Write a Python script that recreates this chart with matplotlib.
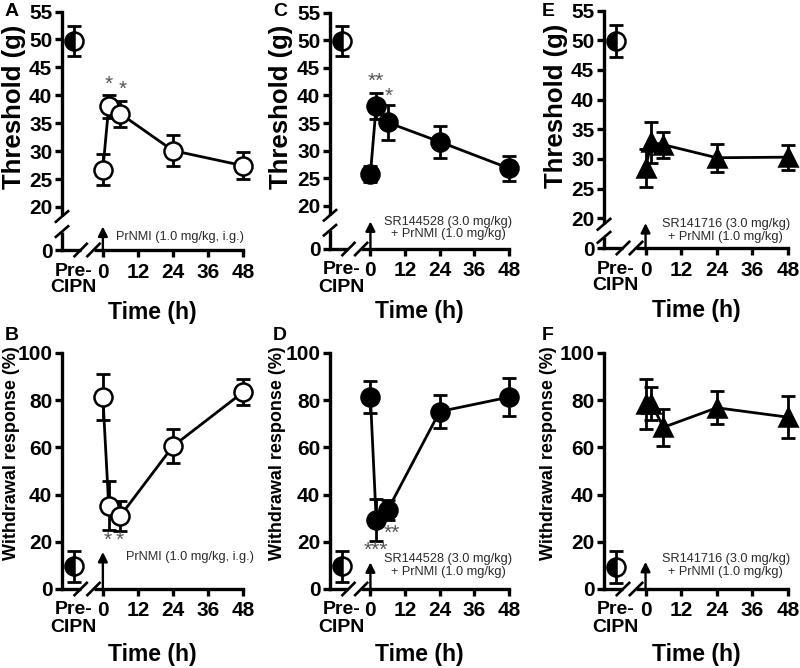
import matplotlib
matplotlib.use("Agg")
import matplotlib.pyplot as plt

plt.rcParams["font.family"] = ["Liberation Sans", "DejaVu Sans"]

# ──────────────────────────────────────────────────────────────
# Data
# ──────────────────────────────────────────────────────────────
PRE_X = -10                      # where the Pre-CIPN point sits on the x axis
times = [0, 2, 6, 24, 48]

# Threshold (g) — top row
pre_thr = [49.7, 49.8, 49.8]
pre_thr_err = [2.7, 2.7, 2.7]
thr_a = [26.7, 38.0, 36.7, 30.1, 27.4]
thr_a_err = [2.8, 2.0, 2.3, 2.7, 2.4]
thr_c = [25.8, 38.1, 35.1, 31.6, 26.8]
thr_c_err = [1.4, 2.4, 3.1, 2.9, 2.3]
thr_e = [28.5, 32.8, 32.4, 30.2, 30.3]
thr_e_err = [3.2, 3.5, 2.2, 2.4, 2.1]

# Withdrawal response (%) — bottom row
pre_wd = [9.6, 9.6, 9.3]
pre_wd_err = [6.7, 6.7, 6.6]
wd_b = [81.3, 35.3, 31.0, 60.5, 83.4]
wd_b_err = [9.6, 10.4, 6.5, 7.2, 5.6]
wd_d = [81.3, 29.3, 33.5, 75.2, 81.3]
wd_d_err = [6.7, 9.0, 4.2, 7.0, 8.1]
wd_f = [78.4, 78.6, 68.5, 76.8, 72.8]
wd_f_err = [10.4, 7.0, 7.9, 7.0, 8.8]

thr_ticks = [20, 25, 30, 35, 40, 45, 50, 55]
wd_ticks = [0, 20, 40, 60, 80, 100]
time_ticks = [0, 12, 24, 36, 48]

treat_a = "PrNMI (1.0 mg/kg, i.g.)"
treat_c = "SR144528 (3.0 mg/kg)\n+ PrNMI (1.0 mg/kg)"
treat_e = "SR141716 (3.0 mg/kg)\n+ PrNMI (1.0 mg/kg)"

W, H = 800, 668
fig = plt.figure(figsize=(W / 100, H / 100), dpi=100)

LW = 2.0
SPINE_LW = 2.4
TEXT_COL = "#2a2a2a"
STAR_COL = "#555555"


def make_axes(left, top, width, bottom):
    return fig.add_axes([left / W, 1 - bottom / H, width / W, (bottom - top) / H])


def style(ax, ylim, yticks, ylabels, ylabel, ylab_size, ylab_xy, xlab_y):
    ax.set_xlim(-14, 48)
    ax.set_ylim(*ylim)
    for s in ("top", "right"):
        ax.spines[s].set_visible(False)
    for s in ("left", "bottom"):
        ax.spines[s].set_linewidth(SPINE_LW)
    ax.tick_params(width=SPINE_LW, length=5, labelsize=15, pad=2)
    ax.tick_params(axis="x", pad=4)
    ax.set_yticks(yticks)
    ax.set_yticklabels(ylabels, fontweight="bold")
    ax.set_xticks([PRE_X] + time_ticks)
    ax.set_xticklabels(["Pre-\nCIPN"] + [str(t) for t in time_ticks],
                       fontweight="bold", linespacing=1.0)
    ax.xaxis.get_major_ticks()[0].tick1line.set_visible(False)
    ax.xaxis.get_majorticklabels()[0].set_fontsize(14)
    ax.set_xlabel("Time (h)", fontsize=16.5, fontweight="bold")
    ax.xaxis.set_label_coords(0.5, xlab_y)
    ax.set_ylabel(ylabel, fontweight="bold", fontsize=ylab_size)
    ax.yaxis.set_label_coords(*ylab_xy)


def x_break(ax):
    tr = ax.get_xaxis_transform()
    ax.plot([-7.6, -3.2], [0, 0], color="white", lw=SPINE_LW + 1.5,
            transform=tr, clip_on=False, zorder=4, solid_capstyle="butt")
    for xc in (-7.6, -3.2):
        ax.plot([xc - 2.1, xc + 2.1], [-0.026, 0.026], color="k", lw=1.9,
                transform=tr, clip_on=False, zorder=5)


def y_break(ax, y1, y2, dy):
    tr = ax.get_yaxis_transform()
    ax.plot([0, 0], [y1, y2], color="white", lw=SPINE_LW + 1.5,
            transform=tr, clip_on=False, zorder=4, solid_capstyle="butt")
    for yc in (y1, y2):
        ax.plot([-0.034, 0.034], [yc - dy, yc + dy], color="k", lw=1.9,
                transform=tr, clip_on=False, zorder=5)


def draw(ax, pre, pre_err, mean, err, marker, face):
    ms = 13 if marker == "o" else 13.5
    ax.errorbar([PRE_X], [pre], yerr=[pre_err], fmt="none", ecolor="k",
                elinewidth=LW, capsize=5, capthick=LW, zorder=3)
    ax.plot([PRE_X], [pre], "o", ms=13, mec="k", mew=1.8, mfc="k",
            markerfacecoloralt="white", fillstyle="left", zorder=4)
    ax.errorbar(times, mean, yerr=err, fmt="none", ecolor="k",
                elinewidth=LW, capsize=5, capthick=LW, zorder=3,
                clip_on=False)
    ax.plot(times, mean, "-", color="k", lw=LW, zorder=3, clip_on=False)
    ax.plot(times, mean, marker, ls="none", ms=ms, mec="k", mew=1.8,
            mfc=face, zorder=4, clip_on=False)


def arrow(ax, y0, y1):
    ax.annotate("", xy=(0, y1), xytext=(0, y0),
                arrowprops=dict(arrowstyle="-|>", lw=1.7, color="k",
                                mutation_scale=14, shrinkA=0, shrinkB=0),
                annotation_clip=False, zorder=5)


def star(ax, x, y, s):
    ax.text(x, y, s, fontsize=15, color=STAR_COL, ha="center", va="center")


cols = [(62, 181), (330, 179), (604, 184)]
top_lab_x = [-0.2, -0.207, -0.196]
bot_lab_x = [-0.232, -0.245, -0.255]

# ──────────────────────────────────────────────────────────────
# Top row: threshold (broken y axis, 0 shown below 20)
# ──────────────────────────────────────────────────────────────
top_rows = [
    (thr_a, thr_a_err, "o", "white", 12.3, 250, 11.5),
    (thr_c, thr_c_err, "o", "black", 12.2, 249, 12.5),
    (thr_e, thr_e_err, "^", "black", 15.0, 248, 10.5),
]
top_axes = []
for i, ((left, width), (m, e, mk, fc, y0, bot, top)) in enumerate(zip(cols, top_rows)):
    ax = make_axes(left, top, width, bot)
    style(ax, (y0, 55), [y0] + thr_ticks, ["0"] + [str(t) for t in thr_ticks],
          "Threshold (g)", 18.5, (top_lab_x[i], 0.6), -0.215)
    draw(ax, pre_thr[i], pre_thr_err[i], m, e, mk, fc)
    x_break(ax)
    top_axes.append(ax)

ax_a, ax_c, ax_e = top_axes
y_break(ax_a, 18.3, 15.6, 0.95)
y_break(ax_c, 18.3, 15.6, 0.95)
y_break(ax_e, 19.0, 16.8, 0.9)

arrow(ax_a, 12.3, 16.5)
arrow(ax_c, 12.2, 17.2)
arrow(ax_e, 15.0, 19.2)

ax_a.text(4.5, 14.6, treat_a, fontsize=9.2, color=TEXT_COL, va="center")
ax_c.text(27, 16.0, treat_c, fontsize=9.2, color=TEXT_COL, ha="center",
          va="center", linespacing=1.1)
ax_e.text(27, 18.0, treat_e, fontsize=9.2, color=TEXT_COL, ha="center",
          va="center", linespacing=1.1)

star(ax_a, 2, 42.0, "*")
star(ax_a, 6.8, 41.0, "*")
star(ax_c, 2, 42.6, "**")
star(ax_c, 6.5, 39.8, "*")

# ──────────────────────────────────────────────────────────────
# Bottom row: withdrawal response
# ──────────────────────────────────────────────────────────────
bot_rows = [
    (wd_b, wd_b_err, "o", "white"),
    (wd_d, wd_d_err, "o", "black"),
    (wd_f, wd_f_err, "^", "black"),
]
bot_axes = []
for i, ((left, width), (m, e, mk, fc)) in enumerate(zip(cols, bot_rows)):
    ax = make_axes(left, 353, width, 589)
    style(ax, (0, 100), wd_ticks, [str(t) for t in wd_ticks],
          "Withdrawal response (%)", 13, (bot_lab_x[i], 0.575), -0.23)
    draw(ax, pre_wd[i], pre_wd_err[i], m, e, mk, fc)
    x_break(ax)
    bot_axes.append(ax)

ax_b, ax_d, ax_f = bot_axes
arrow(ax_b, 0, 15.7)
arrow(ax_d, 0, 11.3)
arrow(ax_f, 0, 11.5)

ax_b.text(8.0, 13.5, treat_a, fontsize=9.2, color=TEXT_COL, va="center")
ax_d.text(27, 10.0, treat_c, fontsize=9.2,
          color=TEXT_COL, ha="center", va="center", linespacing=1.1)
ax_f.text(27, 10.0, treat_e, fontsize=9.2, color=TEXT_COL, ha="center",
          va="center", linespacing=1.1)

star(ax_b, 1.8, 20.5, "*")
star(ax_b, 5.8, 20.5, "*")
star(ax_d, 2, 16.5, "***")
star(ax_d, 7.5, 23.5, "**")

# panel letters
for letter, x, y in [("A", 12, 12), ("C", 280, 12), ("E", 548, 12),
                     ("B", 12, 336), ("D", 280, 336), ("F", 548, 336)]:
    fig.text(x / W, 1 - y / H, letter, fontsize=14, fontweight="bold",
             va="center", ha="center")

fig.savefig("out.png", dpi=100)
